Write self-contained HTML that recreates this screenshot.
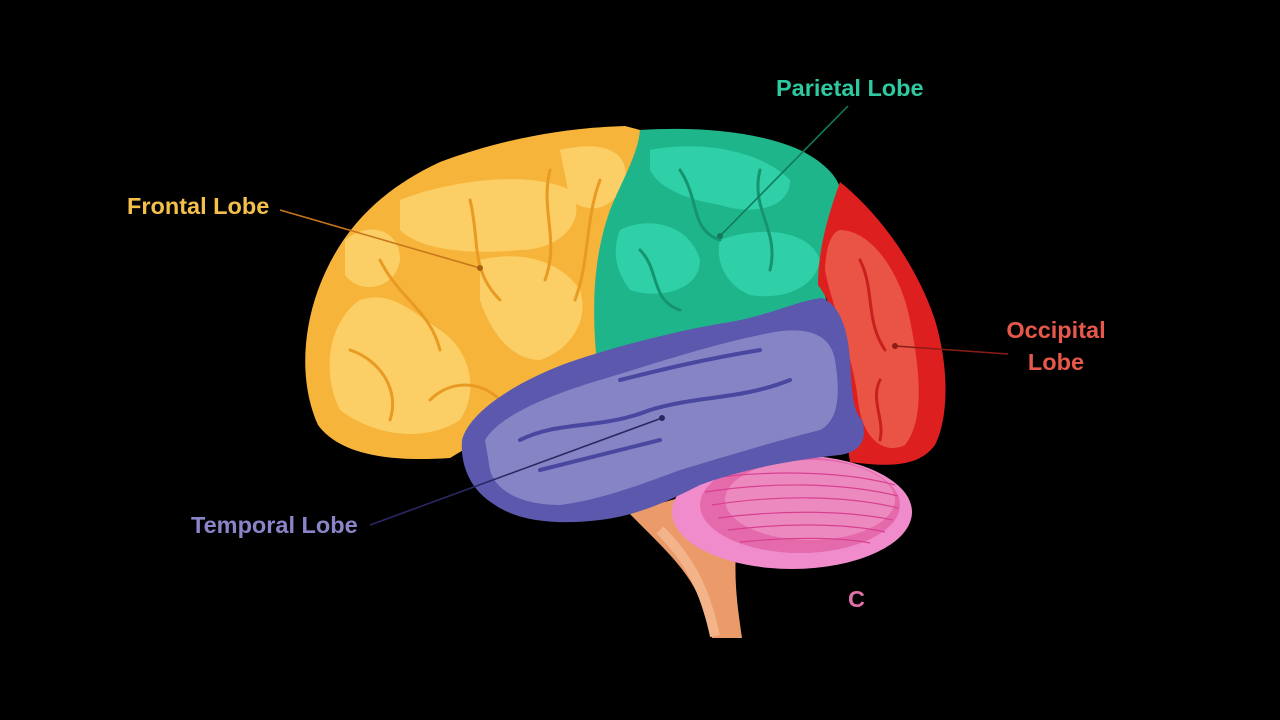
<!DOCTYPE html>
<html><head><meta charset="utf-8"><style>
html,body{margin:0;padding:0;background:#000;width:1280px;height:720px;overflow:hidden}
svg{display:block}
text{font-family:"Liberation Sans",sans-serif;font-weight:bold;font-size:23.5px}
</style></head><body>
<svg width="1280" height="720" viewBox="0 0 1280 720">
<rect width="1280" height="720" fill="#000"/>
<!-- brainstem -->
<path d="M628,512 C660,545 690,570 702,605 L712,638 L742,638 C738,610 734,585 736,550 L735,520 L690,495 Z" fill="#eb9a6a"/>
<path d="M660,530 C690,560 705,590 715,636" stroke="#f4b48a" stroke-width="10" fill="none"/>
<!-- cerebellum -->
<ellipse cx="792" cy="512" rx="120" ry="57" fill="#f08ccc"/>
<ellipse cx="800" cy="505" rx="100" ry="48" fill="#e46aac"/>
<ellipse cx="810" cy="500" rx="85" ry="40" fill="#ec8ac0"/>
<g stroke="#d8408f" stroke-width="1.2" fill="none">
<path d="M700,480 C760,470 840,470 895,485"/><path d="M705,492 C770,482 840,482 898,496"/>
<path d="M712,505 C775,495 845,495 898,508"/><path d="M718,518 C780,510 845,510 893,520"/>
<path d="M728,530 C785,523 845,523 885,532"/><path d="M740,542 C790,537 840,537 870,543"/>
</g>
<!-- frontal -->
<path d="M625,126 C560,128 500,140 440,162 C380,190 340,230 318,290 C300,340 302,390 318,425 C340,455 390,462 450,458 L480,440 C520,420 580,400 620,390 C600,330 598,250 612,210 C622,180 640,150 640,130 Z" fill="#f7b43a"/>
<g fill="#fbcf65">
<path d="M360,300 C330,320 320,370 340,410 C380,440 430,440 460,420 C480,390 470,350 440,330 C410,310 390,290 360,300Z"/>
<path d="M400,200 C450,180 530,170 570,190 C590,220 560,250 520,250 C470,255 420,250 400,230Z"/>
<path d="M480,260 C520,250 560,260 580,290 C590,320 570,350 540,360 C510,360 490,330 480,300Z"/>
<path d="M560,150 C600,140 630,150 625,180 C615,210 590,215 570,200Z"/>
<path d="M345,240 C370,220 400,230 400,260 C395,290 360,295 345,275Z"/>
</g>
<g stroke="#e89a22" stroke-width="3" fill="none" stroke-linecap="round">
<path d="M380,260 C400,300 430,310 440,350"/><path d="M470,200 C480,240 470,270 500,300"/>
<path d="M550,170 C540,210 560,240 545,280"/><path d="M350,350 C380,360 400,390 390,420"/>
<path d="M430,400 C450,380 480,380 500,400"/><path d="M600,180 C585,220 590,260 575,300"/>
</g>
<!-- parietal -->
<path d="M640,130 C700,126 760,132 800,150 C830,165 845,185 840,200 C832,240 820,270 825,295 L835,340 L700,370 L600,390 C588,300 596,250 610,210 C622,180 638,155 640,130Z" fill="#1fb58a"/>
<g fill="#2fcfa8">
<path d="M650,150 C700,140 760,150 790,180 C790,210 750,215 720,205 C690,200 660,190 650,170Z"/>
<path d="M620,230 C650,215 690,225 700,260 C700,290 660,300 630,290 C615,270 612,250 620,230Z"/>
<path d="M720,240 C760,225 810,230 820,260 C815,290 780,300 750,295 C725,285 715,260 720,240Z"/>
</g>
<g stroke="#15946e" stroke-width="3" fill="none" stroke-linecap="round">
<path d="M680,170 C700,200 690,230 720,240"/><path d="M760,170 C750,210 780,230 770,270"/>
<path d="M640,250 C660,270 650,300 680,310"/>
</g>
<!-- occipital -->
<path d="M840,182 C875,210 915,260 935,320 C950,370 948,420 935,445 C920,465 895,468 850,462 C845,430 845,400 843,360 C840,330 830,300 818,285 C818,250 828,215 840,182Z" fill="#dd1f1f"/>
<path d="M840,230 C870,230 900,270 910,320 C920,370 925,420 905,445 C885,455 862,440 858,400 C852,350 830,300 825,270 C826,245 832,232 840,230Z" fill="#e95444"/>
<g stroke="#c8201e" stroke-width="3" fill="none" stroke-linecap="round">
<path d="M860,260 C875,290 865,320 885,350"/><path d="M880,380 C870,400 885,420 880,440"/>
</g>
<!-- temporal -->
<path d="M462,440 C470,410 520,380 570,362 C620,345 680,330 730,322 C770,315 800,300 822,298 C840,305 848,330 850,360 C852,390 852,410 862,420 C868,440 860,452 840,455 C790,460 740,470 700,485 C670,500 640,515 600,520 C560,525 520,522 495,505 C470,490 460,465 462,440Z" fill="#5b58ad"/>
<path d="M485,440 C500,415 550,395 600,380 C650,365 710,345 760,335 C800,325 830,330 835,360 C840,390 840,420 820,430 C780,440 730,455 680,470 C640,485 600,500 560,505 C520,505 495,490 490,470Z" fill="#8784c6"/>
<g stroke="#4a47a0" stroke-width="4" fill="none" stroke-linecap="round">
<path d="M520,440 C560,420 600,430 650,410 C700,395 740,400 790,380"/>
<path d="M540,470 C580,460 620,450 660,440"/>
<path d="M620,380 C660,370 700,360 760,350"/>
</g>
<!-- leader lines -->
<g stroke-width="1.6" fill="none">
<line x1="280" y1="210" x2="480" y2="268" stroke="#c8761c"/>
<line x1="848" y1="106" x2="720" y2="236" stroke="#127a5c"/>
<line x1="1008" y1="354" x2="895" y2="346" stroke="#8a1d16"/>
<line x1="370" y1="525" x2="662" y2="418" stroke="#2a2860"/>
</g>
<circle cx="480" cy="268" r="3" fill="#a85f14"/>
<circle cx="720" cy="236" r="3" fill="#127a5c"/>
<circle cx="895" cy="346" r="3" fill="#8a1d16"/>
<circle cx="662" cy="418" r="3" fill="#2a2860"/>
<!-- labels -->
<text x="127" y="214" fill="#f5c04a">Frontal Lobe</text>
<text x="776" y="96" fill="#2ec9a0">Parietal Lobe</text>
<text x="1056" y="338" fill="#e8584a" text-anchor="middle">Occipital</text>
<text x="1056" y="370" fill="#e8584a" text-anchor="middle">Lobe</text>
<text x="191" y="533" fill="#8a85c8">Temporal Lobe</text>
<text x="848" y="607" fill="#e070a8">C</text>
</svg>
</body></html>
